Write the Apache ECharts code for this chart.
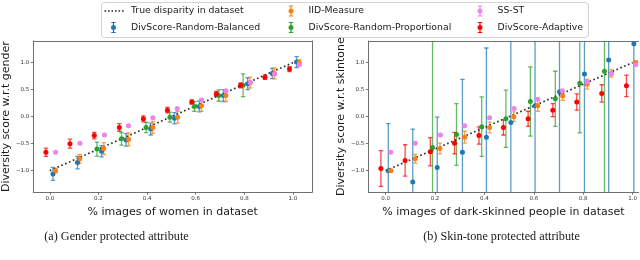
<!DOCTYPE html>
<html><head><meta charset="utf-8">
<script src="https://cdn.jsdelivr.net/npm/echarts@6/dist/echarts.min.js"></script>
<style>html,body{margin:0;padding:0;background:#fff}#c{width:640px;height:260px}</style>
</head><body><div id="c"></div>
<script>
// ---- names ----
const NAME_TRUE = 'True disparity in dataset';
const NAME_BAL = 'DivScore-Random-Balanced';
const NAME_IID = 'IID-Measure';
const NAME_PROP = 'DivScore-Random-Proportional';
const NAME_SS = 'SS-ST';
const NAME_ADA = 'DivScore-Adaptive';

// ---- tick values ----
const xTickValues = [0.0, 0.2, 0.4, 0.6, 0.8, 1.0];
const yTickValues = [-1.0, -0.5, 0.0, 0.5, 1.0];

// ---- true disparity line (both panels) ----
const trueX = [0.0, 1.0];
const trueY = [-1.0, 1.0];

// ---- (a) gender ----
const genderBalX = [0.013, 0.114, 0.213, 0.314, 0.415, 0.513, 0.615, 0.714, 0.814, 0.915, 1.015];
const genderBalY = [-1.06, -0.85, -0.64, -0.43, -0.23, -0.03, 0.19, 0.39, 0.61, 0.80, 1.01];
const genderBalE = [0.12, 0.115, 0.105, 0.115, 0.11, 0.105, 0.10, 0.11, 0.11, 0.095, 0.10];

const genderIidX = [0.024, 0.123, 0.222, 0.324, 0.424, 0.526, 0.624, 0.724, 0.824, 0.924, 1.026];
const genderIidY = [-1.00, -0.78, -0.59, -0.42, -0.20, -0.01, 0.20, 0.39, 0.63, 0.80, 1.00];
const genderIidE = [0.04, 0.08, 0.11, 0.12, 0.11, 0.11, 0.10, 0.11, 0.10, 0.10, 0.055];

const genderPropX = [0.194, 0.295, 0.396, 0.494, 0.595, 0.695, 0.795];
const genderPropY = [-0.60, -0.41, -0.20, -0.01, 0.19, 0.39, 0.58];
const genderPropE = [0.13, 0.117, 0.096, 0.093, 0.09, 0.105, 0.21];

const genderSsX = [0.024, 0.124, 0.225, 0.324, 0.424, 0.524, 0.624, 0.725, 0.825, 0.925, 1.026];
const genderSsY = [-0.66, -0.49, -0.34, -0.17, -0.02, 0.15, 0.31, 0.48, 0.63, 0.79, 0.96];
const genderSsE = [0.015, 0.015, 0.015, 0.015, 0.015, 0.015, 0.015, 0.015, 0.015, 0.015, 0.015];

const genderAdaX = [-0.016, 0.083, 0.183, 0.286, 0.385, 0.484, 0.584, 0.685, 0.785, 0.885, 0.986];
const genderAdaY = [-0.66, -0.50, -0.35, -0.20, -0.04, 0.12, 0.27, 0.42, 0.58, 0.73, 0.88];
const genderAdaE = [0.077, 0.083, 0.06, 0.07, 0.055, 0.05, 0.04, 0.045, 0.045, 0.04, 0.045];

// ---- (b) skin tone ----
const skinBalX = [0.011, 0.110, 0.209, 0.311, 0.408, 0.507, 0.605, 0.704, 0.805, 0.903, 1.005];
const skinBalY = [-1.00, -1.21, -0.94, -0.66, -0.38, -0.11, 0.20, 0.46, 0.79, 1.05, 1.35];
const skinBalE = [0.87, 0.98, 0.93, 1.35, 1.65, 1.8, 2.0, 2.2, 2.5, 2.7, 3.0];

const skinIidX = [0.021, 0.120, 0.220, 0.320, 0.421, 0.519, 0.616, 0.717, 0.816, 0.914, 1.0125];
const skinIidY = [-1.00, -0.78, -0.59, -0.38, -0.20, 0.00, 0.20, 0.38, 0.60, 0.80, 1.00];
const skinIidE = [0.03, 0.08, 0.10, 0.11, 0.10, 0.09, 0.10, 0.08, 0.09, 0.07, 0.03];

const skinPropX = [0.190, 0.287, 0.389, 0.487, 0.586, 0.687, 0.786, 0.886];
const skinPropY = [-0.57, -0.33, -0.185, -0.04, 0.28, 0.33, 0.62, 0.84];
const skinPropE = [2.1, 0.57, 0.55, 0.53, 0.64, 0.51, 0.92, 2.4];

const skinSsX = [0.021, 0.120, 0.222, 0.320, 0.421, 0.520, 0.616, 0.715, 0.816, 0.914, 1.0125];
const skinSsY = [-0.66, -0.49, -0.34, -0.17, -0.02, 0.15, 0.32, 0.48, 0.64, 0.80, 0.96];
const skinSsE = [0.015, 0.015, 0.015, 0.015, 0.015, 0.015, 0.015, 0.015, 0.02, 0.015, 0.015];

const skinAdaX = [-0.019, 0.079, 0.181, 0.279, 0.378, 0.477, 0.577, 0.677, 0.774, 0.875, 0.975];
const skinAdaY = [-0.96, -0.81, -0.65, -0.49, -0.35, -0.20, -0.04, 0.12, 0.27, 0.43, 0.57];
const skinAdaE = [0.33, 0.29, 0.26, 0.20, 0.16, 0.14, 0.14, 0.12, 0.15, 0.16, 0.20];

// ---- styles ----
const COLORS = {};
COLORS[NAME_BAL] = '#1f77b4';
COLORS[NAME_IID] = '#ff7f0e';
COLORS[NAME_PROP] = '#2ca02c';
COLORS[NAME_SS] = '#ee82ee';
COLORS[NAME_ADA] = '#ff0000';
const FRAME = '#707070';
const FONT = 'DejaVu Sans';

function zip3(xs, ys, es) { return xs.map((x, i) => [x, ys[i], es[i]]); }

function errRender(params, api) {
  const x = api.value(0), y = api.value(1), e = api.value(2);
  const cs = params.coordSys;
  const c = api.coord([x, y]);
  if (c[0] < cs.x - 1 || c[0] > cs.x + cs.width + 1) return null;
  const t = api.coord([x, y + e]);
  const b = api.coord([x, y - e]);
  const top = Math.max(t[1], cs.y), bot = Math.min(b[1], cs.y + cs.height);
  if (top >= bot) return null;
  const st = { stroke: api.visual('color'), lineWidth: 1.3, opacity: 0.72 };
  const kids = [{ type: 'line', shape: { x1: c[0], y1: top, x2: c[0], y2: bot }, style: st }];
  if (t[1] >= cs.y) kids.push({ type: 'line', shape: { x1: c[0] - 2.2, y1: t[1], x2: c[0] + 2.2, y2: t[1] }, style: st });
  if (b[1] <= cs.y + cs.height) kids.push({ type: 'line', shape: { x1: c[0] - 2.2, y1: b[1], x2: c[0] + 2.2, y2: b[1] }, style: st });
  return { type: 'group', children: kids };
}

const series = [];
function addPanel(p, groups) {
  const xi = p === 0 ? 0 : 2, yi = p === 0 ? 0 : 2;
  series.push({
    type: 'line', name: NAME_TRUE, xAxisIndex: xi, yAxisIndex: yi,
    data: trueX.map((x, i) => [x, trueY[i]]), showSymbol: false, symbol: 'none',
    itemStyle: { color: '#222' },
    lineStyle: { color: '#2a2a2a', width: 1.7, type: [1.6, 2.6] }, z: 2
  });
  groups.forEach(g => {
    series.push({
      type: 'custom', name: g.name, xAxisIndex: xi, yAxisIndex: yi,
      data: zip3(g.x, g.y, g.e), encode: { x: 0, y: 1 },
      renderItem: errRender, itemStyle: { color: COLORS[g.name] }, z: 2, clip: true
    });
    series.push({
      type: 'scatter', name: g.name, xAxisIndex: xi, yAxisIndex: yi,
      data: g.x.map((x, i) => [x, g.y[i]]), symbol: 'circle', symbolSize: 5,
      itemStyle: { color: COLORS[g.name], opacity: 1 }, z: 2, clip: true
    });
  });
}
addPanel(0, [
  { name: NAME_BAL, x: genderBalX, y: genderBalY, e: genderBalE },
  { name: NAME_IID, x: genderIidX, y: genderIidY, e: genderIidE },
  { name: NAME_PROP, x: genderPropX, y: genderPropY, e: genderPropE },
  { name: NAME_SS, x: genderSsX, y: genderSsY, e: genderSsE },
  { name: NAME_ADA, x: genderAdaX, y: genderAdaY, e: genderAdaE }
]);
addPanel(1, [
  { name: NAME_BAL, x: skinBalX, y: skinBalY, e: skinBalE },
  { name: NAME_IID, x: skinIidX, y: skinIidY, e: skinIidE },
  { name: NAME_PROP, x: skinPropX, y: skinPropY, e: skinPropE },
  { name: NAME_SS, x: skinSsX, y: skinSsY, e: skinSsE },
  { name: NAME_ADA, x: skinAdaX, y: skinAdaY, e: skinAdaE }
]);

const fmt = v => (v < 0 ? '\u2212' : '') + Math.abs(v).toFixed(1);
function mainX(grid, min, max, name) {
  return {
    type: 'value', gridIndex: grid, min: min, max: max, position: 'bottom',
    axisLine: { show: true, onZero: false, lineStyle: { color: FRAME, width: 1 } },
    axisTick: { show: true, length: 2.5, customValues: xTickValues, lineStyle: { color: '#555', width: 0.8 } },
    axisLabel: { show: true, customValues: xTickValues, formatter: fmt, fontSize: 5.5, color: '#333', margin: 3.5, fontFamily: FONT },
    splitLine: { show: false },
    name: name, nameLocation: 'middle', nameGap: 9,
    nameTextStyle: { fontSize: 11, fontFamily: FONT, color: '#1a1a1a' }
  };
}
function frameX(grid, min, max) {
  return {
    type: 'value', gridIndex: grid, min: min, max: max, position: 'top',
    axisLine: { show: true, onZero: false, lineStyle: { color: FRAME, width: 1 } },
    axisTick: { show: false }, axisLabel: { show: false }, splitLine: { show: false }
  };
}
function mainY(grid, name) {
  return {
    type: 'value', gridIndex: grid, min: -1.4, max: 1.4, position: 'left',
    axisLine: { show: true, onZero: false, lineStyle: { color: FRAME, width: 1 } },
    axisTick: { show: true, length: 2.5, customValues: yTickValues, lineStyle: { color: '#555', width: 0.8 } },
    axisLabel: { show: true, customValues: yTickValues, formatter: fmt, fontSize: 5.5, color: '#333', margin: 4, fontFamily: FONT },
    splitLine: { show: false },
    name: name, nameLocation: 'middle', nameGap: 21, nameRotate: 90,
    nameTextStyle: { fontSize: 11, fontFamily: FONT, color: '#1a1a1a' }
  };
}

// legend icons (bbox exactly 21 x 12)
const ANCH = 'M0,0h0.01v0.01h-0.01Z M21,12h-0.01v-0.01h0.01Z ';
const ICON_DOT = 'path://' + ANCH + [1.5, 5, 8.5, 12, 15.5, 19].map(x => `M${x},5.2h1.6v1.6h-${1.6}Z`).join(' ');
const ICON_ERR = 'path://' + ANCH + 'M9.9,0.6h1.2v10.8h-1.2Z M8.3,0.6h4.4v1h-4.4Z M8.3,10.4h4.4v1h-4.4Z M8,6a2.5,2.5 0 1,1 5,0a2.5,2.5 0 1,1 -5,0Z';
function legItem(name) {
  const isLine = name === NAME_TRUE;
  return { name: name, icon: isLine ? ICON_DOT : ICON_ERR,
           itemStyle: { color: isLine ? '#2a2a2a' : COLORS[name], borderWidth: 0, opacity: 1 } };
}
function legend(left, names) {
  return {
    orient: 'vertical', left: left, top: 5, itemWidth: 21, itemHeight: 12, itemGap: 4.5,
    selectedMode: false, padding: 0,
    textStyle: { fontFamily: FONT, fontSize: 9.3, color: '#1a1a1a', padding: [0, 0, 0, 2], lineHeight: 12 },
    data: names.map(legItem)
  };
}

const chart = echarts.init(document.getElementById('c'), null, { renderer: 'canvas' });
chart.setOption({
  animation: false,
  backgroundColor: '#fff',
  grid: [
    { left: 30, top: 41, width: 282, height: 151.3, containLabel: false },
    { left: 368.3, top: 41, right: 0, height: 151.3, containLabel: false }
  ],
  xAxis: [
    mainX(0, -0.068, 1.0785, '% images of women in dataset'),
    frameX(0, -0.068, 1.0785),
    mainX(1, -0.070, 1.024, '% images of dark-skinned people in dataset'),
    frameX(1, -0.070, 1.024)
  ],
  yAxis: [
    mainY(0, 'Diversity score w.r.t gender'),
    {
      type: 'value', gridIndex: 0, min: -1.4, max: 1.4, position: 'right',
      axisLine: { show: true, onZero: false, lineStyle: { color: FRAME, width: 1 } },
      axisTick: { show: false }, axisLabel: { show: false }, splitLine: { show: false }
    },
    mainY(1, 'Diversity score w.r.t skintone')
  ],
  legend: [
    legend(103, [NAME_TRUE, NAME_BAL]),
    legend(280.5, [NAME_IID, NAME_PROP]),
    legend(469.5, [NAME_SS, NAME_ADA])
  ],
  graphic: [
    { type: 'rect', z: -10, shape: { x: 101.5, y: 2.5, width: 487, height: 35, r: 3 },
      style: { fill: '#fff', stroke: '#d4d4d4', lineWidth: 1 } },
    { type: 'text', x: 116.5, y: 237, style: { text: '(a) Gender protected attribute', textAlign: 'center', textVerticalAlign: 'middle', font: '12.2px "Liberation Serif"', fill: '#1a1a1a' } },
    { type: 'text', x: 501.5, y: 237, style: { text: '(b) Skin-tone protected attribute', textAlign: 'center', textVerticalAlign: 'middle', font: '12.2px "Liberation Serif"', fill: '#1a1a1a' } }
  ],
  series: series
});
</script></body></html>
